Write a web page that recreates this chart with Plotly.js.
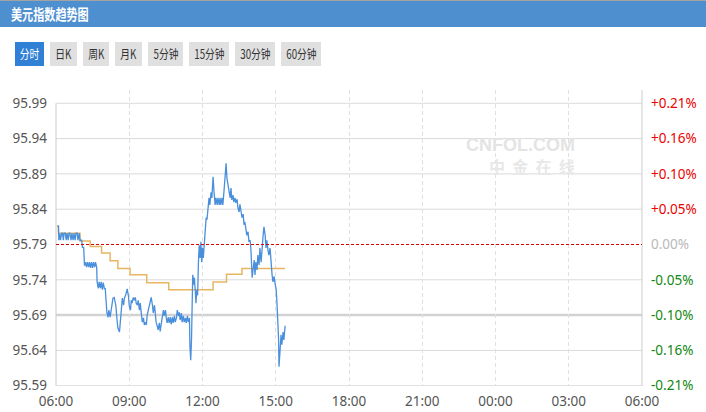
<!DOCTYPE html>
<html><head><meta charset="utf-8">
<script src="https://cdn.plot.ly/plotly-3.0.1.min.js"></script>
<style>
html,body{margin:0;padding:0;background:#fff;}
#wrap{position:relative;width:706px;height:412px;overflow:hidden;}
#chart{position:absolute;left:0;top:0;width:706px;height:412px;}
#hdr{position:absolute;left:0;top:0;width:706px;height:27px;background:#4e8fd0;border-top:1px solid #a3a3a3;box-sizing:border-box;z-index:5;}
#hdr span{position:absolute;left:11px;top:3px;color:#fff;font:bold 15px "Noto Sans CJK SC",sans-serif;line-height:19px;transform:scaleX(0.74);transform-origin:left center;white-space:nowrap;}
.btn{position:absolute;top:42px;height:24px;background:#e0e0e0;color:#333;z-index:5;text-align:center;font:12.5px "Noto Sans CJK SC",sans-serif;line-height:24px;overflow:hidden;}
.btn span{display:inline-block;transform:scaleX(0.78);white-space:nowrap;}
.btn.on{background:#3080d6;color:#fff;}
</style></head>
<body><div id="wrap">
<div id="chart"></div>
<div id="hdr"><span>美元指数趋势图</span></div>
<div id="btns"></div>
</div>
<script>
// ---------- data ----------
const tabLabels = ["分时","日K","周K","月K","5分钟","15分钟","30分钟","60分钟"];
const leftLabels = ["95.59","95.64","95.69","95.74","95.79","95.84","95.89","95.94","95.99"];
const rightLabels = ["-0.21%","-0.16%","-0.10%","-0.05%","0.00%","+0.05%","+0.10%","+0.16%","+0.21%"];
const xTickLabels = ["06:00","09:00","12:00","15:00","18:00","21:00","00:00","03:00","06:00"];
const prevClose = 95.79;
const highlightLevel = 95.69;

const times = ["06:03","06:06","06:07","06:09","06:11","06:14","06:16","06:18","06:20","06:23","06:25","06:27","06:30","06:32","06:34","06:37","06:39","06:42","06:44","06:47","06:49","06:52","06:54","06:57","06:59",
"07:03","07:05","07:08","07:10","07:12","07:15","07:17","07:20","07:22","07:25","07:27","07:30","07:32","07:35","07:37","07:40","07:41","07:44","07:46","07:49","07:51","07:54","07:56","07:59",
"08:01","08:03","08:05","08:08","08:10","08:13","08:15","08:18","08:20","08:23","08:25","08:27","08:30","08:32","08:36","08:38","08:41","08:43","08:46","08:48","08:51","08:53","08:55","08:58",
"09:00","09:03","09:05","09:07","09:10","09:12","09:15","09:17","09:20","09:22","09:25","09:27","09:30","09:32","09:35","09:37","09:39","09:42","09:44","09:47","09:49","09:52","09:54","09:57","09:59",
"10:02","10:04","10:06","10:09","10:11","10:14","10:16","10:19","10:21","10:24","10:26","10:29","10:31","10:33","10:36","10:38","10:41","10:43","10:46","10:48","10:51","10:53","10:56","10:58",
"11:01","11:03","11:05","11:08","11:10","11:13","11:15","11:18","11:20","11:23","11:25","11:28","11:29","11:31","11:33","11:34","11:36","11:38","11:40","11:42","11:44","11:46","11:48","11:50","11:52","11:54","11:56","11:58",
"12:00","12:02","12:04","12:06","12:09","12:11","12:14","12:16","12:18","12:21","12:23","12:26","12:28","12:31","12:33","12:36","12:38","12:41","12:43","12:45","12:48","12:50","12:53","12:55","12:58",
"13:00","13:03","13:05","13:08","13:10","13:12","13:15","13:17","13:20","13:22","13:25","13:27","13:30","13:32","13:35","13:37","13:40","13:42","13:44","13:47","13:49","13:52","13:54","13:57","13:59",
"14:02","14:04","14:07","14:09","14:11","14:14","14:16","14:19","14:21","14:24","14:26","14:29","14:31","14:34","14:36","14:38","14:41","14:43","14:46","14:48","14:51","14:53","14:56","14:58",
"15:01","15:03","15:05","15:07","15:08","15:10","15:13","15:15","15:18","15:20","15:23"];
const prices = [95.816,95.816,95.796,95.806,95.796,95.806,95.806,95.796,95.806,95.806,95.796,95.806,95.796,95.806,95.806,95.796,95.806,95.796,95.806,95.796,95.806,95.806,95.796,95.806,95.796,
95.796,95.786,95.786,95.760,95.765,95.758,95.765,95.758,95.765,95.757,95.765,95.757,95.765,95.758,95.765,95.758,95.737,95.728,95.737,95.728,95.737,95.726,95.736,95.727,
95.728,95.711,95.694,95.687,95.697,95.687,95.697,95.704,95.714,95.715,95.711,95.704,95.683,95.672,95.666,95.683,95.704,95.714,95.704,95.714,95.718,95.722,95.727,95.717,
95.703,95.697,95.711,95.707,95.715,95.711,95.715,95.707,95.704,95.711,95.697,95.707,95.686,95.680,95.686,95.676,95.680,95.676,95.690,95.697,95.704,95.711,95.715,95.704,95.693,
95.704,95.690,95.680,95.674,95.669,95.679,95.667,95.679,95.689,95.697,95.689,95.697,95.686,95.679,95.687,95.679,95.687,95.677,95.687,95.679,95.689,95.680,95.686,95.697,
95.689,95.694,95.683,95.693,95.680,95.689,95.680,95.686,95.679,95.689,95.680,95.686,95.648,95.626,95.655,95.726,95.747,95.733,95.743,95.726,95.707,95.726,95.718,95.765,95.789,95.771,95.794,95.765,
95.785,95.771,95.791,95.796,95.828,95.825,95.842,95.856,95.846,95.864,95.856,95.886,95.867,95.846,95.856,95.846,95.856,95.846,95.856,95.846,95.856,95.846,95.867,95.888,95.905,
95.884,95.874,95.867,95.856,95.870,95.853,95.860,95.850,95.856,95.849,95.854,95.842,95.836,95.847,95.836,95.828,95.833,95.818,95.822,95.811,95.803,95.808,95.794,95.796,95.782,
95.743,95.754,95.768,95.747,95.765,95.754,95.775,95.761,95.785,95.765,95.789,95.803,95.815,95.803,95.785,95.796,95.782,95.775,95.785,95.765,95.747,95.737,95.745,95.736,
95.726,95.707,95.683,95.655,95.617,95.638,95.662,95.648,95.666,95.655,95.675];

const avgTimes = ["06:03","06:06","06:59","07:24","07:52","08:13","08:32","09:02","09:43","10:37","12:26","12:59","13:37","15:23"];
const avgPrices = [95.816,95.806,95.795,95.787,95.778,95.767,95.756,95.747,95.736,95.726,95.737,95.748,95.756,95.756];

// ---------- helpers ----------
function toDates(arr){
  let day = 1, prev = -1;
  return arr.map(t => {
    const [h,m] = t.split(':').map(Number);
    const v = h*60+m;
    if (prev >= 0 && v <= prev) day++;
    prev = v;
    return '2024-01-0' + day + ' ' + t;
  });
}

// ---------- buttons ----------
const btnBox = [[15,29],[50,27],[83,26],[115,27],[148,35],[189,40],[235,40],[281,40]];
const btns = document.getElementById('btns');
tabLabels.forEach((lab,i) => {
  const d = document.createElement('div');
  d.className = 'btn' + (i===0 ? ' on' : '');
  d.style.left = btnBox[i][0] + 'px';
  d.style.width = btnBox[i][1] + 'px';
  const s = document.createElement('span');
  s.textContent = lab;
  d.appendChild(s);
  btns.appendChild(d);
});

// ---------- chart ----------
const xt = toDates(xTickLabels);
const yVals = leftLabels.map(Number);
const yMin = yVals[0] - 0.0004;
const yMax = yVals[yVals.length-1] + 0.0188;
const rightText = rightLabels.map(s => {
  const c = s[0]==='+' ? '#ee0000' : (s[0]==='-' ? '#118811' : '#b8b8b8');
  return '<span style="color:' + c + '">' + s + '</span>';
});

const shapes = [];
yVals.forEach(v => {
  if (Math.abs(v - prevClose) < 1e-6) return;
  const hl = Math.abs(v - highlightLevel) < 1e-6;
  shapes.push({type:'line', xref:'paper', x0:0, x1:1, yref:'y', y0:v, y1:v,
    line:{color: hl ? '#d2d2d2' : '#dadada', width: hl ? 2.5 : 1}, layer:'below'});
});
shapes.push({type:'line', xref:'paper', x0:0, x1:0, yref:'y', y0:yVals[0], y1:yVals[yVals.length-1], line:{color:'#cccccc', width:1}, layer:'below'});
shapes.push({type:'line', xref:'paper', x0:1, x1:1, yref:'paper', y0:0, y1:1, line:{color:'#cccccc', width:1}, layer:'below'});
shapes.push({type:'line', xref:'paper', x0:0, x1:1, yref:'y', y0:prevClose, y1:prevClose, line:{color:'#e00000', width:1, dash:'3px,2px'}, layer:'above'});

const traces = [
  {x: toDates(avgTimes), y: avgPrices, type:'scatter', mode:'lines', line:{color:'#e8b662', width:1.5, shape:'hv'}, hoverinfo:'skip'},
  {x: toDates(times), y: prices, type:'scatter', mode:'lines', line:{color:'#4a8fdc', width:1.3}, hoverinfo:'skip'},
  {x: [xt[0]], y: [prevClose], yaxis:'y2', type:'scatter', mode:'markers', marker:{opacity:0}, hoverinfo:'skip'}
];

const layout = {
  width:706, height:412,
  margin:{l:56, r:64, t:90, b:26, pad:0},
  paper_bgcolor:'#ffffff', plot_bgcolor:'#ffffff',
  showlegend:false,
  font:{family:'"Noto Sans", sans-serif', size:13.5, color:'#555555'},
  xaxis:{type:'date', range:[xt[0], xt[xt.length-1]], tickmode:'array', tickvals:xt, ticktext:xTickLabels,
    showgrid:true, gridcolor:'#e0e0e0', griddash:'4px,3px', gridwidth:1, zeroline:false, showline:false, ticks:'', ticklabelstandoff:5, fixedrange:true},
  yaxis:{range:[yMin, yMax], tickmode:'array', tickvals:yVals, ticktext:leftLabels, showgrid:false, zeroline:false, showline:false, ticks:'', ticklabelstandoff:8, fixedrange:true},
  yaxis2:{overlaying:'y', side:'right', range:[yMin, yMax], tickmode:'array', tickvals:yVals, ticktext:rightText, showgrid:false, zeroline:false, showline:false, ticks:'', ticklabelstandoff:8, fixedrange:true},
  shapes: shapes,
  annotations:[
    {xref:'paper', yref:'paper', x:0.889, y:0.855, text:'<b>CNFOL.COM</b>', showarrow:false, font:{family:'"Liberation Sans", sans-serif', size:18, color:'#e4e4e4'}},
    {xref:'paper', yref:'paper', x:0.889, y:0.79, text:'<b>中  金  在  线</b>', showarrow:false, font:{family:'"Noto Sans CJK SC", sans-serif', size:16, color:'#e8e8e8'}}
  ]
};

Plotly.newPlot('chart', traces, layout, {staticPlot:true, displayModeBar:false});
</script>
</body></html>
